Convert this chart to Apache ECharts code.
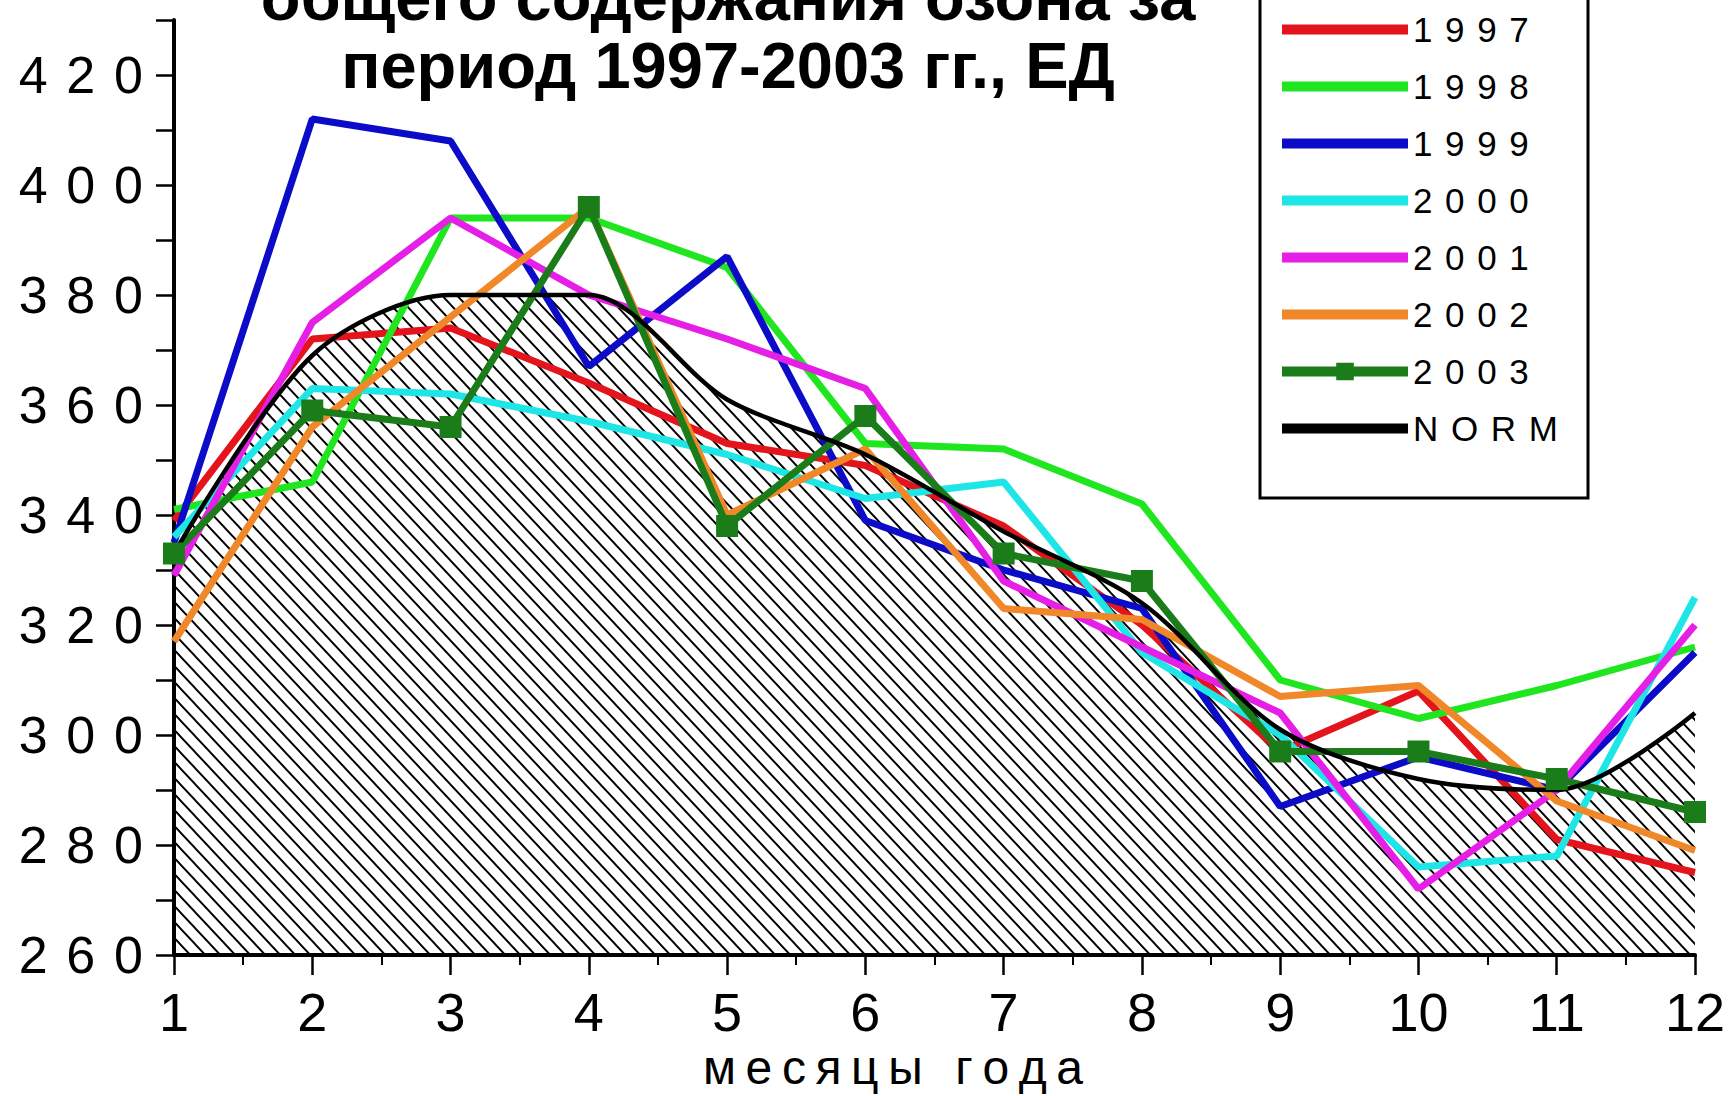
<!DOCTYPE html>
<html><head><meta charset="utf-8">
<script src="https://cdn.jsdelivr.net/npm/echarts@6/dist/echarts.min.js"></script>
<style>html,body{margin:0;padding:0;background:#fff}#c{width:1729px;height:1096px}</style>
</head><body><div id="c"></div>
<script>
const months = [1,2,3,4,5,6,7,8,9,10,11,12];
const seriesNames = ['1997','1998','1999','2000','2001','2002','2003','NORM'];
const v1997 = [339, 372, 374, 364, 353, 349, 338, 320, 297, 308, 281, 275];
const v1998 = [341, 346, 394, 394, 385, 353, 352, 342, 310, 303, 309, 316];
const v1999 = [335, 412, 408, 367, 387, 339, 330, 323, 287, 296, 290, 315];
const v2000 = [336, 363, 362, 357, 351, 343, 346, 315, 300, 276, 278, 325];
const v2001 = [329, 375, 394, 380, 372, 363, 328, 316, 304, 272, 290, 320];
const v2002 = [317, 356, 376, 396, 340, 352, 323, 321, 307, 309, 288, 279];
const v2003 = [333, 359, 356, 396, 338, 358, 333, 328, 297, 297, 292, 286];
const vNorm = [333, 369, 380, 380, 361, 351, 337, 324, 301, 292, 290, 304];
const yTickLabels = ['260','280','300','320','340','360','380','400','420'];
const xTickLabels = ['1','2','3','4','5','6','7','8','9','10','11','12'];
const titleLines = ['общего содержания озона за', 'период 1997-2003 гг., ЕД'];
const xAxisTitle = 'месяцы года';

const colors = ['#e3141b','#1fe61f','#0c0cc8','#1fe6e6','#e61fe6','#f0882a','#1a7d1a','#000000'];
const values = [v1997, v1998, v1999, v2000, v2001, v2002, v2003, vNorm];
const FONT = '"Liberation Sans", Arial, sans-serif';

function spaced(s, sep) { return s.split('').join(sep); }
function pts(arr) { return months.map((m, i) => [m, arr[i]]); }
function hatch() {
  const c = document.createElement('canvas'); c.width = 15; c.height = 16;
  const g = c.getContext('2d');
  g.strokeStyle = '#000'; g.lineWidth = 1.9; g.beginPath();
  for (const o of [-15, 0, 15]) { g.moveTo(o - 15, -16); g.lineTo(o + 30, 32); }
  g.stroke();
  return c.toDataURL();
}

const series = [{
  name: '_area', type: 'line', data: pts(vNorm), smooth: 0.3, symbol: 'none', silent: true,
  lineStyle: { width: 0 },
  areaStyle: { color: { image: hatch(), repeat: 'repeat' }, opacity: 1, origin: 'start' },
  z: 1
}];
seriesNames.forEach((n, i) => {
  const isNorm = n === 'NORM';
  const is2003 = n === '2003';
  series.push({
    name: n, type: 'line', data: pts(values[i]),
    smooth: isNorm ? 0.3 : false,
    symbol: is2003 ? 'rect' : 'none', symbolSize: 22, showSymbol: is2003,
    itemStyle: { color: colors[i] },
    lineStyle: { color: colors[i], width: isNorm ? 4.5 : 7 },
    z: 2
  });
});

const chart = echarts.init(document.getElementById('c'), null, { renderer: 'svg' });
chart.setOption({
  animation: false,
  backgroundColor: '#fff',
  grid: { left: 174, right: 34, top: 20, bottom: 141 },
  xAxis: {
    type: 'value', min: 1, max: 12, interval: 1,
    axisLine: { lineStyle: { color: '#000', width: 4 } },
    axisTick: { length: 20, lineStyle: { color: '#000', width: 2.5 } },
    minorTick: { show: true, splitNumber: 2, length: 10, lineStyle: { color: '#000', width: 2 } },
    splitLine: { show: false },
    axisLabel: { margin: 30, fontSize: 54, color: '#000', fontFamily: FONT,
      formatter: v => xTickLabels[Math.round(v) - 1] || '' }
  },
  yAxis: {
    type: 'value', min: 260, max: 430, interval: 10,
    axisLine: { show: true, lineStyle: { color: '#000', width: 4 } },
    axisTick: { show: true, length: 18, lineStyle: { color: '#000', width: 2.5 } },
    splitLine: { show: false },
    axisLabel: { margin: 31, fontSize: 52, color: '#000', fontFamily: FONT,
      formatter: v => yTickLabels.includes(String(v)) ? spaced(String(v), ' \u200A') : '' }
  },
  legend: {
    orient: 'vertical', left: 1277, top: 12, padding: 0,
    itemWidth: 126, itemHeight: 22, itemGap: 22,
    data: seriesNames.map(n => n === '2003' ? { name: n } : { name: n, itemStyle: { opacity: 0 } }),
    formatter: n => spaced(n, ' \u200A'),
    textStyle: { fontSize: 35, lineHeight: 34, color: '#000', fontFamily: FONT },
    lineStyle: { width: 10 }
  },
  graphic: [
    { type: 'rect', shape: { x: 1260, y: -20, width: 328, height: 518 },
      style: { fill: 'none', stroke: '#000', lineWidth: 3 }, z: 0 },
    { type: 'text', style: { text: titleLines[0], x: 728, y: -3, fill: '#000',
      font: 'bold 65px ' + FONT, textAlign: 'center', textVerticalAlign: 'middle' } },
    { type: 'text', style: { text: titleLines[1], x: 728, y: 65, fill: '#000',
      font: 'bold 65px ' + FONT, textAlign: 'center', textVerticalAlign: 'middle' } },
    { type: 'text', style: { text: spaced(xAxisTitle, '\u2009'), x: 893, y: 1067, fill: '#000',
      font: '48px ' + FONT, textAlign: 'center', textVerticalAlign: 'middle' } }
  ],
  series: series
});
</script></body></html>
